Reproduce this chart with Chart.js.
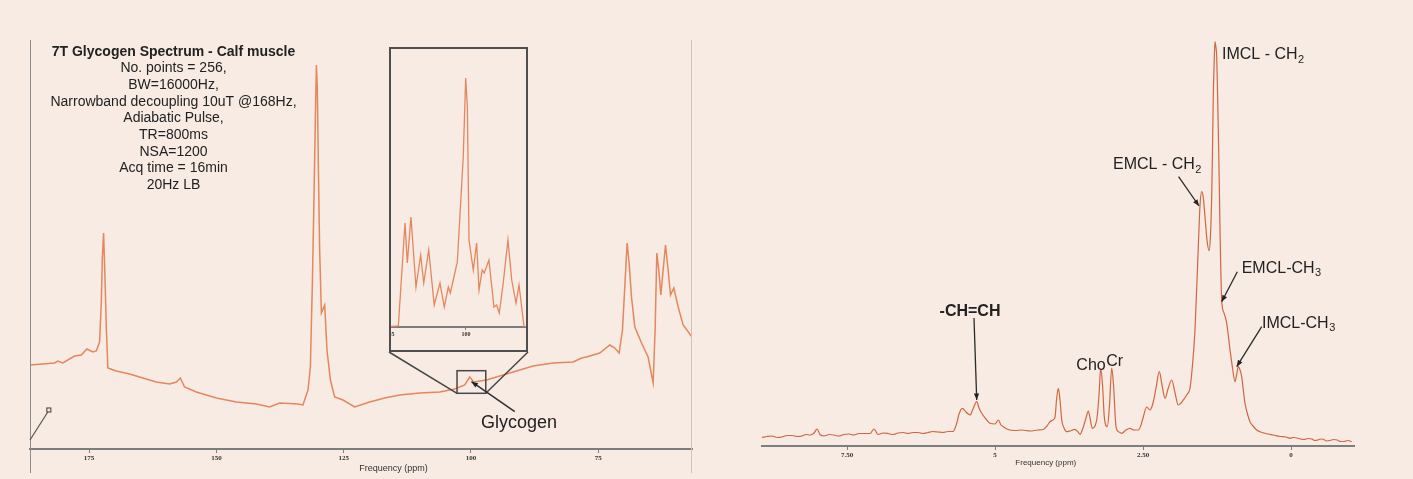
<!DOCTYPE html>
<html>
<head>
<meta charset="utf-8">
<script src="https://cdn.jsdelivr.net/npm/chart.js@4.4.1/dist/chart.umd.min.js"></script>
<style>
  html, body { margin: 0; padding: 0; background: #f7ebe4; }
  #page { position: relative; width: 1413px; height: 479px; overflow: hidden; }
  .panel { position: absolute; top: 0; height: 479px; }
  #left { left: 0; width: 700px; }
  #right { left: 700px; width: 713px; }
  #insetClip { position: absolute; overflow: hidden; }
  #insetCanvasWrap { position: absolute; top: 0; }
  #insetBox { position: absolute; border: 2px solid #4e4e4e; box-sizing: border-box; }
</style>
</head>
<body>
<div id="page">
  <div class="panel" id="left"><canvas id="leftChart" width="700" height="479"></canvas></div>
  <div class="panel" id="right"><canvas id="rightChart" width="713" height="479"></canvas></div>
  <div id="insetClip"><div id="insetCanvasWrap"><canvas id="insetChart"></canvas></div></div>
  <div id="insetBox"></div>
</div>
<script>
// 13C spectrum (left), ppm vs. intensity
const leftPpm = [186.6, 181.78, 181.13, 180.15, 177.85, 176.53, 175.43, 174.25, 173.59, 172.94,
  172.60, 172.41, 172.15, 171.90, 171.62, 171.31, 169.66, 167.04, 164.43, 161.80,
  159.18, 157.87, 157.08, 156.24, 153.94, 150.01, 146.08, 142.15, 139.54, 137.57,
  133.98, 133.00, 132.01, 131.54, 131.15, 130.84, 130.56, 130.36, 130.17, 129.97,
  129.72, 129.38, 128.73, 128.28, 127.61, 126.77, 125.14, 122.84, 119.89, 116.94,
  114.00, 110.07, 106.14, 103.19, 101.23, 100.25, 99.46, 96.96, 93.04, 87.81,
  83.88, 79.95, 78.30, 77.32, 74.71, 72.74, 71.76, 70.91, 70.25, 69.73,
  69.34, 68.95, 68.48, 67.83, 66.51, 65.22, 64.23, 63.84, 63.51, 63.06,
  62.72, 62.27, 61.80, 61.29, 60.82, 60.17, 59.32, 58.34, 56.6];
const leftInt = [84, 86, 88, 86, 93, 94, 100, 97, 98, 107,
  146, 189, 216, 176, 122, 81, 78, 75, 71, 67,
  65, 67, 71, 62, 57, 51, 47, 45, 42, 46,
  45, 44, 59, 82, 166, 249, 332, 384, 359, 282,
  199, 136, 144, 99, 69, 52, 49, 42, 47, 51,
  54, 56, 57, 60, 64, 72, 67, 69, 75, 83,
  86, 87, 91, 92, 96, 104, 101, 96, 119, 169,
  206, 186, 152, 122, 106, 92, 66, 119, 196, 176,
  154, 179, 204, 179, 154, 161, 142, 124, 112];
const leftTicks = [175, 150, 125, 100, 75];

// glycogen region zoom (inset)
const insetPpm = [105.3, 104.45, 104.01, 103.86, 103.62, 103.29, 102.98, 102.78, 102.45, 102.09,
  101.71, 101.43, 101.16, 101.03, 100.57, 100.18, 100.02, 99.91, 99.80, 99.52,
  99.30, 99.14, 98.93, 98.80, 98.49, 98.16, 97.98, 97.81, 97.55, 97.24,
  96.99, 96.71, 96.51, 96.18, 95.92];
const insetInt = [0, 1, 104, 64, 110, 40, 72, 44, 77, 22,
  44, 20, 40, 34, 65, 170, 249, 220, 87, 57,
  84, 37, 57, 54, 67, 20, 22, 14, 44, 87,
  47, 24, 42, 0, 0];
const insetTicks = [105, 100];

// 1H spectrum (right)
const rightPpm = [8.936, 8.85, 8.767, 8.68, 8.598, 8.51, 8.429, 8.34, 8.260, 8.19,
  8.125, 8.057, 8.007, 7.956, 7.889, 7.80, 7.720, 7.64, 7.551, 7.47,
  7.382, 7.30, 7.213, 7.111, 7.044, 6.976, 6.89, 6.807, 6.72, 6.639,
  6.55, 6.470, 6.39, 6.301, 6.22, 6.132, 6.05, 5.963, 5.88, 5.794,
  5.709, 5.647, 5.608, 5.552, 5.490, 5.422,
  5.372, 5.309, 5.270, 5.225, 5.152, 5.084, 5.000, 4.944, 4.899, 4.860,
  4.780, 4.662, 4.544, 4.409, 4.274, 4.184, 4.122, 4.071, 4.020, 3.986,
  3.961, 3.931, 3.902, 3.873, 3.834, 3.789, 3.733, 3.649, 3.598, 3.564,
  3.514, 3.463, 3.424, 3.395, 3.356, 3.311, 3.277, 3.243, 3.215, 3.184,
  3.154, 3.103, 3.066, 3.029, 2.998, 2.956, 2.905, 2.860, 2.787, 2.720,
  2.652, 2.579, 2.534, 2.500, 2.438, 2.382, 2.331, 2.280, 2.225, 2.179,
  2.128, 2.078, 2.015, 1.959, 1.904, 1.858, 1.819, 1.762, 1.706, 1.664,
  1.622, 1.566, 1.537, 1.508, 1.481, 1.453, 1.419, 1.385, 1.360, 1.340,
  1.326, 1.313, 1.297, 1.284, 1.267, 1.255, 1.242, 1.228, 1.213, 1.199,
  1.171, 1.132, 1.086, 1.030, 0.988, 0.946, 0.917, 0.890, 0.861, 0.833,
  0.802, 0.777, 0.735, 0.693, 0.642, 0.579, 0.490, 0.389, 0.299, 0.186,
  0.084, 0.017, -0.04, -0.101, -0.16, -0.220, -0.29, -0.355, -0.40, -0.456,
  -0.50, -0.546, -0.60, -0.659, -0.72, -0.777, -0.84, -0.895, -0.96, -1.025];
const rightInt = [8.5, 9.5, 10, 8.5, 9, 10.5, 10.5, 9.5, 10, 11.5,
  11, 13, 17, 11.5, 10, 11.5, 11, 10, 11.5, 12,
  11, 12.5, 12.5, 12.5, 17, 11.5, 13, 12.5, 11.5, 13,
  13.5, 12.5, 13.5, 13.5, 12.5, 13.5, 14.5, 14, 13.5, 14.5,
  14.5, 22.7, 32, 37.7, 34, 31,
  37, 44.3, 38, 32.7, 27, 22.7, 22, 26, 21, 19.3,
  16.5, 15.5, 16, 15, 16, 16.5, 20, 24.3, 26, 29,
  46, 57.7, 46, 26, 18, 14.3, 15, 16.7, 14, 11.7,
  18, 28, 35, 28, 17.7, 20, 28, 51, 77.7, 61,
  29.3, 19.3, 41, 78, 61, 19.3, 14, 12.7, 16, 17.7,
  16, 16, 21, 28, 39, 36, 43, 58, 74.3, 61,
  47.7, 57, 66, 53, 41, 43, 46, 51, 58, 81,
  116, 199.3, 241, 254.3, 248, 229.3, 206, 195.3, 211, 249.3,
  296, 349.3, 386, 404.3, 398, 389.3, 356, 316, 266, 216,
  146, 133, 122.7, 96, 78, 64.3, 72, 79.3, 76, 69.3,
  54, 42.7, 32, 24.3, 20, 16, 13.5, 12, 11, 9.5,
  9, 7.7, 8.5, 8, 7, 6.5, 7.5, 7, 5.5, 6,
  7, 6.7, 5, 5.5, 6.5, 6, 4.5, 4.5, 5.5, 4.3];
const rightTicks = [7.5, 5, 2.5, 0];
const rightTickLabels = ['7.50', '5', '2.50', '0'];

const infoTitle = '7T Glycogen Spectrum - Calf muscle';
const infoLines = ['No. points = 256,', 'BW=16000Hz,', 'Narrowband decoupling 10uT @168Hz,',
  'Adiabatic Pulse,', 'TR=800ms', 'NSA=1200', 'Acq time = 16min', '20Hz LB'];

// where the inset box sits on the page
const INSET_BOX = { left: 389, top: 47, width: 139, height: 305 };
const INSET_HIDDEN = 20; // canvas extends left of the box, clipped away

Chart.defaults.font.family = 'Liberation Sans';
Chart.defaults.animation = false;

const LINE_L = '#e4875d';
const LINE_R = '#cf6740';
const AXIS = '#7d7d7d';
const INK = '#222222';

function toXY(xs, ys) {
  return xs.map((x, i) => ({ x: x, y: ys[i] }));
}

function arrow(ctx, x1, y1, x2, y2, head) {
  ctx.beginPath();
  ctx.moveTo(x1, y1);
  ctx.lineTo(x2, y2);
  ctx.stroke();
  const a = Math.atan2(y2 - y1, x2 - x1);
  ctx.beginPath();
  ctx.moveTo(x2, y2);
  ctx.lineTo(x2 - head * Math.cos(a - 0.38), y2 - head * Math.sin(a - 0.38));
  ctx.lineTo(x2 - head * Math.cos(a + 0.38), y2 - head * Math.sin(a + 0.38));
  ctx.closePath();
  ctx.fill();
}

// text with a subscript tail, e.g. CH + 2
function subText(ctx, main, sub, x, y, size, bold) {
  ctx.font = (bold ? 'bold ' : '') + size + 'px "Liberation Sans"';
  ctx.textAlign = 'left';
  ctx.textBaseline = 'middle';
  ctx.fillText(main, x, y);
  if (sub) {
    const w = ctx.measureText(main).width;
    ctx.font = (bold ? 'bold ' : '') + Math.round(size * 0.68) + 'px "Liberation Sans"';
    ctx.fillText(sub, x + w + 0.5, y + size * 0.32);
  }
}

function xAxis(ticks, labels, min, max, height, tickSize, fontSize) {
  return {
    type: 'linear',
    reverse: true,
    min: min,
    max: max,
    afterBuildTicks: (s) => { s.ticks = ticks.map(v => ({ value: v })); },
    afterFit: (s) => { s.height = height; },
    grid: { drawOnChartArea: false, drawTicks: true, tickLength: tickSize, color: AXIS },
    border: { display: true, color: AXIS, width: 2 },
    ticks: {
      padding: 1,
      color: '#333',
      font: { family: 'Liberation Serif', size: fontSize, weight: 'bold' },
      callback: (v) => labels ? labels[ticks.indexOf(v)] : String(v)
    }
  };
}

const leftNotes = {
  id: 'leftNotes',
  afterDraw(chart) {
    const { ctx, chartArea: area, scales: { x, y } } = chart;
    ctx.save();
    // frame verticals
    ctx.strokeStyle = '#8c8c8c';
    ctx.lineWidth = 1;
    ctx.beginPath(); ctx.moveTo(area.left + 0.5, 40); ctx.lineTo(area.left + 0.5, 473); ctx.stroke();
    ctx.strokeStyle = '#cfc3bb';
    ctx.beginPath(); ctx.moveTo(area.right - 0.5, 40); ctx.lineTo(area.right - 0.5, 473); ctx.stroke();

    // acquisition info
    ctx.fillStyle = INK;
    ctx.textAlign = 'center';
    ctx.textBaseline = 'middle';
    ctx.font = 'bold 14px "Liberation Sans"';
    ctx.fillText(infoTitle, 173.5, 51.7);
    ctx.font = '14px "Liberation Sans"';
    infoLines.forEach((t, i) => ctx.fillText(t, 173.5, 51.7 + 16.7 * (i + 1)));

    // zoom box on the spectrum and connectors to the inset
    const bx1 = x.getPixelForValue(102.74), bx2 = x.getPixelForValue(97.1);
    const by1 = y.getPixelForValue(78.3), by2 = y.getPixelForValue(55.7);
    ctx.strokeStyle = '#474747';
    ctx.lineWidth = 1.5;
    ctx.strokeRect(bx1, by1, bx2 - bx1, by2 - by1);
    const ib = INSET_BOX.top + INSET_BOX.height;
    ctx.beginPath();
    ctx.moveTo(INSET_BOX.left, ib); ctx.lineTo(bx1, by2);
    ctx.moveTo(INSET_BOX.left + INSET_BOX.width, ib); ctx.lineTo(bx2, by2);
    ctx.stroke();

    // glycogen label + arrow
    ctx.strokeStyle = '#333';
    ctx.fillStyle = '#222';
    ctx.lineWidth = 1.6;
    arrow(ctx, x.getPixelForValue(91.4), y.getPixelForValue(37.3),
      x.getPixelForValue(99.91), y.getPixelForValue(67.3), 7);
    ctx.font = '18px "Liberation Sans"';
    ctx.textAlign = 'center';
    ctx.fillText('Glycogen', x.getPixelForValue(90.56), y.getPixelForValue(25.7));

    // small marker near the lower-left corner
    ctx.strokeStyle = '#555';
    ctx.lineWidth = 1.2;
    const mx = x.getPixelForValue(183.1), my = y.getPixelForValue(37);
    ctx.beginPath(); ctx.moveTo(area.left, y.getPixelForValue(9)); ctx.lineTo(mx, my); ctx.stroke();
    ctx.strokeRect(mx - 1, my - 4, 4, 4);

    // axis title
    ctx.fillStyle = '#333';
    ctx.font = '9px "Liberation Sans"';
    ctx.textAlign = 'center';
    ctx.fillText('Frequency (ppm)', x.getPixelForValue(115.2), area.bottom + 19.5);
    ctx.restore();
  }
};

const rightNotes = {
  id: 'rightNotes',
  afterDraw(chart) {
    const { ctx, chartArea: area, scales: { x, y } } = chart;
    const px = (p) => x.getPixelForValue(p);
    const py = (v) => y.getPixelForValue(v);
    ctx.save();
    ctx.fillStyle = INK;
    ctx.strokeStyle = '#2a2a2a';
    ctx.lineWidth = 1.3;

    subText(ctx, 'IMCL - CH', '2', px(1.166), py(391), 16, false);
    subText(ctx, 'EMCL - CH', '2', px(3.007), py(281), 16, false);
    subText(ctx, 'EMCL-CH', '3', px(0.833), py(177.7), 16, false);
    subText(ctx, 'IMCL-CH', '3', px(0.49), py(122.7), 16, false);

    ctx.textAlign = 'center';
    ctx.textBaseline = 'middle';
    ctx.font = 'bold 16px "Liberation Sans"';
    ctx.fillText('-CH=CH', px(5.422), py(134.3));
    ctx.font = '16px "Liberation Sans"';
    ctx.fillText('Cho', px(3.378), py(80));
    ctx.fillText('Cr', px(2.978), py(84.3));

    arrow(ctx, px(1.899), py(269.3), px(1.554), py(240), 7);
    arrow(ctx, px(0.907), py(174.3), px(1.171), py(144.3), 7);
    arrow(ctx, px(0.495), py(119.3), px(0.917), py(79.3), 7);
    arrow(ctx, px(5.355), py(128), px(5.309), py(46), 7);

    ctx.fillStyle = '#333';
    ctx.font = '8px "Liberation Sans"';
    ctx.fillText('Frequency (ppm)', px(4.142), area.bottom + 17);
    ctx.restore();
  }
};

new Chart(document.getElementById('leftChart'), {
  type: 'scatter',
  data: {
    datasets: [{
      data: toXY(leftPpm, leftInt),
      showLine: true,
      borderColor: LINE_L,
      borderWidth: 1.5,
      pointRadius: 0,
      tension: 0
    }]
  },
  options: {
    responsive: false,
    devicePixelRatio: 1,
    layout: { padding: { left: 30, right: 8, top: 20, bottom: 0 } },
    plugins: { legend: { display: false }, tooltip: { enabled: false } },
    scales: {
      x: xAxis(leftTicks, null, 56.6, 186.6, 30, 4, 7),
      y: { display: false, min: 0, max: 429 }
    }
  },
  plugins: [leftNotes]
});

new Chart(document.getElementById('rightChart'), {
  type: 'scatter',
  data: {
    datasets: [{
      data: toXY(rightPpm, rightInt),
      showLine: true,
      borderColor: LINE_R,
      borderWidth: 1.2,
      pointRadius: 0,
      cubicInterpolationMode: 'monotone'
    }]
  },
  options: {
    responsive: false,
    devicePixelRatio: 1,
    layout: { padding: { left: 62, right: 59, top: 20, bottom: 0 } },
    plugins: { legend: { display: false }, tooltip: { enabled: false } },
    scales: {
      x: xAxis(rightTicks, rightTickLabels, -1.064, 8.936, 33, 4, 7),
      y: { display: false, min: 0, max: 426 }
    }
  },
  plugins: [rightNotes]
});

// inset placement
const clip = document.getElementById('insetClip');
const box = document.getElementById('insetBox');
[clip, box].forEach(el => {
  el.style.left = INSET_BOX.left + 'px';
  el.style.top = INSET_BOX.top + 'px';
  el.style.width = INSET_BOX.width + 'px';
  el.style.height = INSET_BOX.height + 'px';
});
const wrap = document.getElementById('insetCanvasWrap');
wrap.style.left = -INSET_HIDDEN + 'px';
const insetCanvas = document.getElementById('insetChart');
insetCanvas.width = INSET_BOX.width + INSET_HIDDEN;
insetCanvas.height = INSET_BOX.height;

new Chart(insetCanvas, {
  type: 'scatter',
  data: {
    datasets: [{
      data: toXY(insetPpm, insetInt),
      showLine: true,
      borderColor: LINE_L,
      borderWidth: 1.3,
      pointRadius: 0,
      tension: 0
    }]
  },
  options: {
    responsive: false,
    devicePixelRatio: 1,
    layout: { padding: 0 },
    plugins: { legend: { display: false }, tooltip: { enabled: false } },
    scales: {
      x: xAxis(insetTicks, null, 95.92, 106.38, 25, 3, 6),
      y: { display: false, min: 0, max: 280 }
    }
  }
});
</script>
</body>
</html>
